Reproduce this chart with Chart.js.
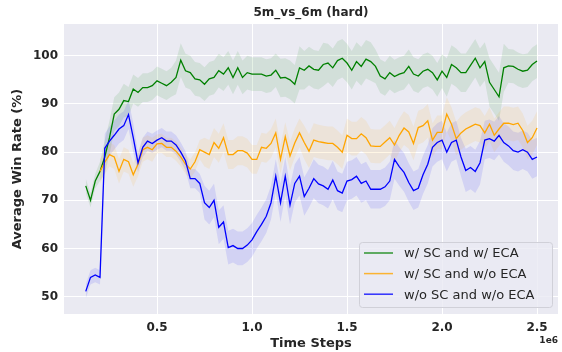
<!DOCTYPE html>
<html>
<head>
<meta charset="utf-8">
<script src="https://cdn.jsdelivr.net/npm/chart.js@4.4.1/dist/chart.umd.min.js"></script>
<style>
  html, body { margin: 0; padding: 0; background: #fff; }
</style>
</head>
<body>
<canvas id="myChart" width="562" height="352"></canvas>
<script>
// time steps, in units of 1e6
var steps = [0.125, 0.15, 0.175, 0.2, 0.225, 0.25, 0.275, 0.3, 0.325, 0.35, 0.375, 0.4,
  0.425, 0.45, 0.475, 0.5, 0.525, 0.55, 0.575, 0.6, 0.625, 0.65, 0.675, 0.7,
  0.725, 0.75, 0.775, 0.8, 0.825, 0.85, 0.875, 0.9, 0.925, 0.95, 0.975, 1.0,
  1.025, 1.05, 1.075, 1.1, 1.125, 1.15, 1.175, 1.2, 1.225, 1.25, 1.275, 1.3,
  1.325, 1.35, 1.375, 1.4, 1.425, 1.45, 1.475, 1.5, 1.525, 1.55, 1.575, 1.6,
  1.625, 1.65, 1.675, 1.7, 1.725, 1.75, 1.775, 1.8, 1.825, 1.85, 1.875, 1.9,
  1.925, 1.95, 1.975, 2.0, 2.025, 2.05, 2.075, 2.1, 2.125, 2.15, 2.175, 2.2,
  2.225, 2.25, 2.275, 2.3, 2.325, 2.35, 2.375, 2.4, 2.425, 2.45, 2.475, 2.5];

// w/ SC and w/ ECA
var scEca = [73.0, 70.0, 74.0, 76.0, 79.0, 83.0, 87.9, 88.9, 90.7, 90.5, 93.1, 92.4,
  93.4, 93.4, 93.8, 94.8, 94.3, 93.8, 94.5, 95.5, 99.1, 96.9, 96.5, 95.2,
  95.0, 94.1, 95.2, 95.5, 96.9, 96.2, 97.5, 95.5, 97.5, 95.5, 96.5, 96.2,
  96.2, 96.2, 95.8, 96.0, 97.0, 95.4, 95.5, 95.0, 94.1, 97.5, 97.0, 97.9,
  97.2, 97.0, 98.2, 98.5, 97.5, 99.0, 99.5, 98.5, 97.0, 98.8, 97.8, 99.3,
  98.8, 97.8, 95.8, 95.2, 96.5, 95.7, 96.2, 96.5, 97.8, 96.2, 95.8, 96.8,
  97.2, 96.5, 95.0, 96.8, 95.5, 98.2, 97.5, 96.5, 96.5, 98.0, 99.5, 97.5,
  98.8, 94.5, 93.0, 91.5, 97.5, 97.9, 97.8, 97.2, 96.8, 97.0, 98.2, 98.9];
var scEcaStd = [1.5, 1.5, 1.5, 2.0, 3.5, 3.5, 3.5, 3.5, 3.5, 3.0, 3.0, 3.0,
  3.0, 3.0, 3.0, 3.0, 3.0, 3.0, 3.0, 3.5, 3.5, 3.5, 3.5, 3.5,
  3.5, 3.5, 3.5, 3.5, 3.5, 3.5, 3.5, 3.5, 3.5, 3.5, 3.5, 3.5,
  3.5, 3.5, 3.5, 3.5, 3.5, 4.0, 4.0, 4.0, 4.0, 4.5, 4.0, 4.0,
  4.0, 4.0, 4.5, 4.0, 4.0, 4.0, 4.0, 4.0, 4.0, 4.0, 4.0, 4.0,
  4.0, 3.5, 3.5, 3.5, 3.5, 3.5, 3.5, 3.5, 3.5, 3.5, 3.5, 3.5,
  3.5, 3.5, 3.5, 3.5, 4.0, 4.0, 4.0, 4.0, 4.0, 4.0, 4.0, 4.0,
  4.0, 5.0, 5.0, 5.0, 5.0, 3.5, 3.5, 3.5, 3.5, 3.5, 3.5, 3.5];

// w/ SC and w/o ECA
var scNoEca = [null, null, null, 76.0, 77.9, 79.5, 79.0, 76.0, 78.5, 78.0, 75.3, 77.5,
  80.5, 81.0, 80.5, 81.7, 81.8, 81.0, 81.0, 80.2, 79.0, 77.5, 76.5, 78.0,
  80.5, 80.0, 79.5, 82.0, 80.8, 83.0, 79.5, 79.5, 80.3, 80.3, 79.8, 78.5,
  78.5, 81.0, 80.8, 81.8, 84.0, 78.5, 83.2, 79.2, 81.9, 84.0, 82.0, 80.2,
  82.5, 82.2, 82.0, 81.8, 81.8, 81.0, 80.0, 83.5, 82.8, 82.8, 83.8, 83.0,
  81.3, 81.2, 81.2, 82.1, 83.0, 81.5, 83.5, 85.0, 84.2, 81.8, 85.1, 85.5,
  86.5, 82.5, 84.1, 84.1, 87.9, 85.8, 82.8, 84.0, 84.8, 85.3, 85.8, 85.5,
  84.0, 85.8, 83.5, 84.8, 86.0, 86.0, 85.7, 86.0, 84.5, 82.0, 83.0, 85.0];
var scNoEcaStd = [null, null, null, 2.5, 2.5, 2.5, 2.5, 2.5, 2.5, 2.5, 2.5, 2.5,
  2.5, 2.5, 2.5, 2.0, 2.0, 2.0, 2.0, 2.0, 2.0, 2.0, 2.0, 2.0,
  2.0, 3.0, 3.0, 3.0, 3.0, 3.0, 3.0, 3.0, 3.0, 3.0, 3.0, 3.0,
  3.0, 3.0, 3.0, 3.0, 3.0, 3.0, 3.0, 3.0, 3.0, 3.0, 3.5, 3.5,
  3.5, 3.5, 3.5, 3.5, 3.5, 3.5, 3.5, 3.5, 3.5, 3.5, 3.5, 3.5,
  3.5, 3.5, 3.5, 3.5, 3.5, 3.5, 3.5, 3.5, 3.5, 3.5, 3.5, 3.5,
  3.5, 3.5, 3.5, 3.5, 3.5, 3.5, 3.5, 3.5, 3.5, 3.5, 3.5, 3.5,
  3.5, 3.5, 3.5, 3.5, 3.5, 3.5, 3.5, 3.5, 3.5, 3.5, 3.5, 3.5];

// w/o SC and w/o ECA
var noScNoEca = [51.1, 54.0, 54.5, 54.0, 80.8, 82.3, 83.5, 84.8, 85.5, 87.8, 83.0, 77.8,
  81.0, 82.3, 81.8, 82.5, 83.0, 82.3, 82.3, 81.5, 80.0, 78.2, 74.5, 74.5,
  73.5, 69.5, 68.5, 70.0, 64.4, 65.5, 60.2, 60.6, 60.0, 60.0, 60.7, 61.8,
  63.5, 65.0, 66.7, 69.5, 75.0, 69.5, 75.0, 69.0, 73.5, 75.0, 70.8, 72.5,
  74.5, 73.4, 73.0, 72.3, 74.2, 72.0, 71.5, 74.0, 74.3, 75.0, 73.5, 74.0,
  72.3, 72.3, 72.3, 72.8, 74.0, 78.5, 77.0, 75.8, 73.7, 72.0, 72.5, 75.3,
  77.5, 81.0, 82.0, 82.5, 80.0, 82.0, 82.5, 79.0, 76.2, 76.8, 76.0, 77.8,
  82.5, 82.8, 82.3, 83.5, 82.0, 81.3, 80.3, 80.0, 80.5, 80.0, 78.5, 79.0];
var noScNoEcaStd = [1.5, 1.5, 1.5, 1.5, 3.0, 3.0, 3.0, 3.0, 3.0, 3.0, 3.0, 2.0,
  2.0, 2.0, 2.0, 2.0, 2.0, 2.0, 2.0, 2.0, 2.0, 2.0, 2.0, 2.0,
  2.0, 3.5, 3.5, 3.5, 3.5, 3.5, 3.5, 3.5, 3.5, 3.5, 3.5, 3.5,
  3.5, 3.5, 3.5, 3.5, 3.5, 4.0, 4.0, 4.0, 4.0, 4.0, 4.0, 4.0,
  4.0, 4.0, 4.0, 4.0, 4.0, 4.0, 4.0, 4.0, 4.0, 4.0, 4.0, 4.0,
  4.0, 4.0, 4.0, 4.0, 4.0, 4.0, 4.0, 4.0, 4.0, 4.0, 4.0, 4.0,
  4.0, 4.0, 4.0, 4.0, 4.0, 4.0, 4.0, 4.0, 4.5, 4.5, 4.5, 4.5,
  4.0, 4.0, 4.0, 4.0, 4.0, 4.0, 4.0, 4.0, 4.0, 4.0, 4.0, 4.0];

var yTicks = [50, 60, 70, 80, 90, 100];
var xTicks = [0.5, 1.0, 1.5, 2.0, 2.5];

var series = [
  { label: "w/ SC and w/ ECA", mean: scEca, std: scEcaStd, color: "#008000", band: "rgba(0,128,0,0.1)" },
  { label: "w/ SC and w/o ECA", mean: scNoEca, std: scNoEcaStd, color: "#FFA500", band: "rgba(255,165,0,0.1)" },
  { label: "w/o SC and w/o ECA", mean: noScNoEca, std: noScNoEcaStd, color: "#0000FF", band: "rgba(0,0,255,0.1)" }
];

var FONT = "'DejaVu Sans', sans-serif";
var TEXT = "#262626";

function points(vals, sign, std) {
  var out = [];
  for (var i = 0; i < steps.length; i++) {
    var v = vals[i];
    if (v === null) { out.push({ x: steps[i], y: null }); continue; }
    var d = std ? sign * std[i] : 0;
    out.push({ x: steps[i], y: v + d });
  }
  return out;
}

var datasets = [];
// lines first (indices 0..2), bands after
series.forEach(function(s, k) {
  datasets.push({
    label: s.label,
    data: points(s.mean, 0, null),
    borderColor: s.color,
    borderWidth: 1.3,
    pointRadius: 0,
    fill: false,
    order: 2 - k
  });
});
series.forEach(function(s) {
  var upIdx = datasets.length;
  datasets.push({
    label: "_up",
    data: points(s.mean, 1, s.std),
    borderWidth: 0,
    borderColor: "rgba(0,0,0,0)",
    pointRadius: 0,
    fill: false,
    order: 10
  });
  datasets.push({
    label: "_low",
    data: points(s.mean, -1, s.std),
    borderWidth: 0,
    borderColor: "rgba(0,0,0,0)",
    backgroundColor: s.band,
    pointRadius: 0,
    fill: { target: upIdx },
    order: 10
  });
});

var decor = {
  id: "decor",
  beforeDraw: function(chart) {
    var c = chart.ctx, a = chart.chartArea;
    c.save();
    c.fillStyle = "#ffffff";
    c.fillRect(0, 0, chart.width, chart.height);
    c.fillStyle = "#EAEAF2";
    c.fillRect(a.left, a.top, a.right - a.left, a.bottom - a.top);
    c.restore();
  },
  afterDraw: function(chart) {
    var c = chart.ctx, a = chart.chartArea;
    c.save();
    c.fillStyle = TEXT;
    c.textAlign = "center";
    c.textBaseline = "middle";
    c.font = "bold 12px " + FONT;
    c.fillText("5m_vs_6m (hard)", (a.left + a.right) / 2, 13);
    c.font = "bold 13px " + FONT;
    c.fillText("Time Steps", (a.left + a.right) / 2, 344);
    c.font = "bold 9px " + FONT;
    c.textAlign = "right";
    c.fillText("1e6", a.right, 341);
    c.translate(18, (a.top + a.bottom) / 2);
    c.rotate(-Math.PI / 2);
    c.textAlign = "center";
    c.font = "bold 13px " + FONT;
    c.fillText("Average Win Rate (%)", 0, 0);
    c.restore();

    // legend box
    c.save();
    var bx = 359, by = 242, bw = 193, bh = 65;
    c.beginPath();
    c.roundRect(bx + 0.5, by + 0.5, bw, bh, 3);
    c.fillStyle = "rgba(234,234,242,0.8)";
    c.fill();
    c.strokeStyle = "#d0d0d8";
    c.lineWidth = 1;
    c.stroke();
    c.font = "13px " + FONT;
    c.textAlign = "left";
    c.textBaseline = "middle";
    series.forEach(function(s, k) {
      var y = 253 + k * 20.6;
      c.globalAlpha = 0.8;
      c.strokeStyle = s.color;
      c.lineWidth = 1.5;
      c.beginPath();
      c.moveTo(364, y);
      c.lineTo(393, y);
      c.stroke();
      c.globalAlpha = 1;
      c.fillStyle = TEXT;
      c.fillText(s.label, 404, y + 1);
    });
    c.restore();
  }
};

var chart = new Chart(document.getElementById("myChart").getContext("2d"), {
  type: "line",
  data: { datasets: datasets },
  options: {
    responsive: false,
    animation: false,
    devicePixelRatio: 1,
    layout: { padding: { top: 24, right: 4, left: 0, bottom: 0 } },
    plugins: { legend: { display: false }, tooltip: { enabled: false } },
    scales: {
      x: {
        type: "linear",
        min: 0.0105,
        max: 2.6105,
        afterBuildTicks: function(scale) {
          scale.ticks = xTicks.map(function(v) { return { value: v }; });
        },
        afterFit: function(scale) { scale.height = 38; },
        grid: { color: "#ffffff", lineWidth: 1, drawTicks: false },
        border: { display: false },
        ticks: {
          padding: 7,
          color: TEXT,
          font: { family: FONT, size: 12, weight: "bold" },
          maxRotation: 0,
          callback: function(v) { return v.toFixed(1); }
        }
      },
      y: {
        min: 46.4,
        max: 106.6,
        afterBuildTicks: function(scale) {
          scale.ticks = yTicks.map(function(v) { return { value: v }; });
        },
        afterFit: function(scale) { scale.width = 64; },
        grid: { color: "#ffffff", lineWidth: 1, drawTicks: false },
        border: { display: false },
        ticks: {
          padding: 6,
          color: TEXT,
          font: { family: FONT, size: 12, weight: "bold" }
        }
      }
    }
  },
  plugins: [decor]
});
</script>
</body>
</html>
